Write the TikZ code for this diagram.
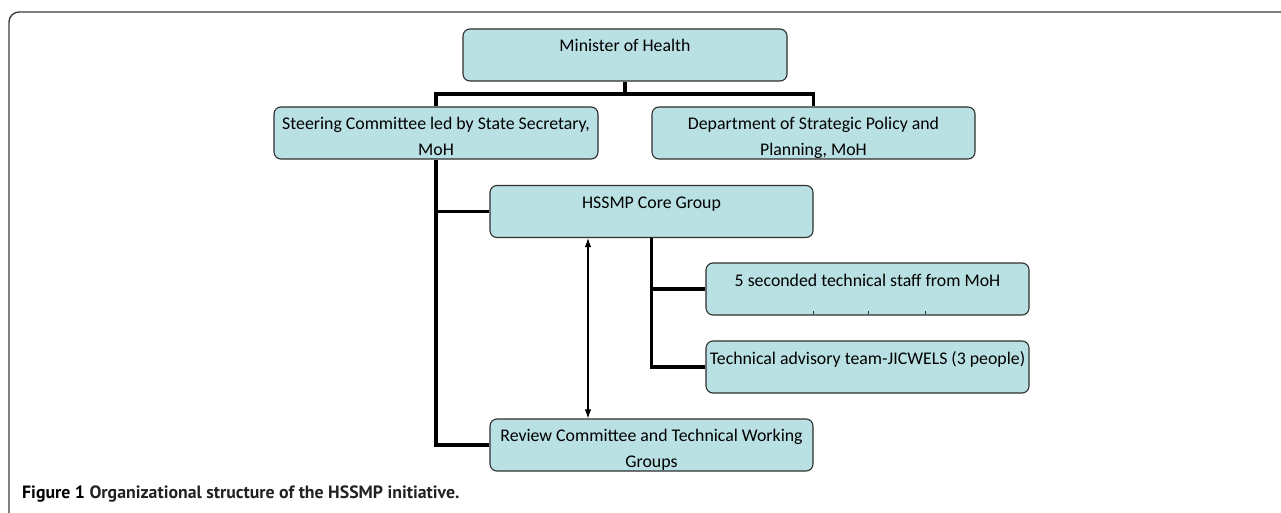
\documentclass[tikz,border=0pt]{standalone}
\usepackage{fontspec}
\setmainfont{Carlito}
\newfontfamily\capfont{PT Sans}
\usetikzlibrary{arrows.meta}
\definecolor{boxfill}{HTML}{B9E0E3}
\definecolor{boxline}{HTML}{2E2E2E}
\definecolor{framecol}{HTML}{3C3C3C}
\definecolor{capgray}{HTML}{222222}
\newcommand\bstrut{\rule[-3pt]{0pt}{25pt}}
\begin{document}
\begin{tikzpicture}[x=1pt,y=-1pt,
  box/.style={draw=boxline, fill=boxfill, line width=1.1pt, rounded corners=7pt,
    minimum width=324pt, minimum height=52pt, inner sep=0pt, align=center,
    font=\fontsize{17.8}{25}\selectfont},
  conn/.style={line width=3.3pt, black},
  biarrow/.style={line width=1.1pt, {Latex[length=9pt,width=6.5pt]}-{Latex[length=9pt,width=6.5pt]}},
  frame/.style={draw=framecol, line width=1.4pt, rounded corners=10pt},
  tick/.style={line width=0.9pt, boxline},
  caption/.style={anchor=base west, inner sep=0pt, font=\capfont\bfseries\fontsize{17.8}{20}\selectfont}]
\useasboundingbox (0,0) rectangle (1281,513);
\draw[frame] (9,515) -- (9,12) -- (1283,12);

\coordinate (bus) at (0,94);
\coordinate (ax) at (588,0);

\node[box] (min) at (625,55) {\bstrut Minister of Health\\\bstrut};
\node[box] (steer) at (436,133) {\bstrut Steering Committee led by State Secretary,\\\bstrut MoH};
\node[box, minimum width=323pt] (dept) at (813.5,133) {\bstrut Department of Strategic Policy and\\\bstrut Planning, MoH};
\node[box, minimum width=323pt] (core) at (651.5,211.5) {\bstrut HSSMP Core Group\\\bstrut};
\node[box, minimum width=323pt] (staff) at (867.5,289) {\bstrut 5 seconded technical staff from MoH\\\bstrut};
\node[box, minimum width=323pt] (tech) at (867.5,367) {\bstrut Technical advisory team-JICWELS (3 people)\\\bstrut};
\node[box, minimum width=323pt] (review) at (651.5,445) {\bstrut Review Committee and Technical Working\\\bstrut Groups};

\draw[conn] (min.south) -- (min.south |- bus);
\draw[conn] (steer.north) |- (bus -| dept.north) -- (dept.north);
\draw[conn] (steer.south) |- (review.west);
\draw[conn] (steer.south |- core.west) -- (core.west);
\draw[conn] (core.south) |- (tech.west);
\draw[conn] (core.south |- staff.west) -- (staff.west);
\draw[biarrow] (core.south -| ax) -- (review.north -| ax);

\foreach \dx in {-54.5,0.5,57.5}
  \draw[tick] ([xshift=\dx pt, yshift=1.2pt]staff.south) -- ++(0,-3);

\node[caption] (cap) at (22,498) {Figure 1 \textcolor{capgray}{Organizational structure of the HSSMP initiative.}};
\end{tikzpicture}
\end{document}
